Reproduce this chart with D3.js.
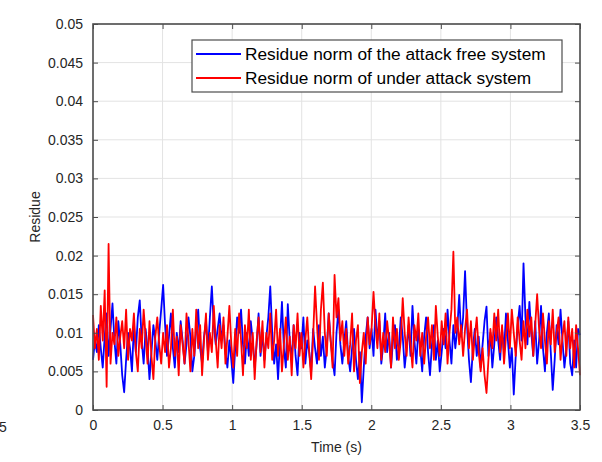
<!DOCTYPE html>
<html><head><meta charset="utf-8">
<script src="https://cdn.jsdelivr.net/npm/d3@7"></script>
<style>html,body{margin:0;padding:0;background:#fff;}svg{display:block;font-family:"Liberation Sans",Arial,sans-serif;}</style>
</head><body>
<svg id="chart" width="602" height="462"></svg>
<script>
const sampleStep = 0.014;
const xTicks = [0, 0.5, 1, 1.5, 2, 2.5, 3, 3.5];
const xTickLabels = ["0", "0.5", "1", "1.5", "2", "2.5", "3", "3.5"];
const yTicks = [0, 0.005, 0.01, 0.015, 0.02, 0.025, 0.03, 0.035, 0.04, 0.045, 0.05];
const yTickLabels = ["0", "0.005", "0.01", "0.015", "0.02", "0.025", "0.03", "0.035", "0.04", "0.045", "0.05"];
const seriesNames = ["Residue norm of the attack free system", "Residue norm of under attack system"];
const attackFree = [
0.0065,0.009,0.0075,0.011,0.008,0.0055,0.0095,0.0125,0.007,0.0105,
0.0138,0.009,0.006,0.0115,0.0085,0.0045,0.0023,0.0065,0.01,0.008,
0.005,0.011,0.0075,0.012,0.0142,0.009,0.006,0.0105,0.008,0.004,
0.0075,0.011,0.009,0.0065,0.01,0.013,0.0162,0.011,0.007,0.0095,
0.0125,0.008,0.0055,0.01,0.0075,0.0115,0.009,0.006,0.0085,0.012,
0.0095,0.005,0.007,0.0105,0.013,0.008,0.006,0.0095,0.0115,0.0075,
0.012,0.016,0.011,0.0085,0.0105,0.0125,0.009,0.011,0.0075,0.0055,
0.009,0.0065,0.0035,0.008,0.012,0.01,0.013,0.0085,0.006,0.01,
0.007,0.0115,0.009,0.0055,0.0085,0.0125,0.007,0.01,0.0065,0.0095,
0.012,0.016,0.01,0.006,0.0085,0.004,0.009,0.014,0.008,0.0055,
0.0137,0.009,0.0065,0.011,0.007,0.0045,0.01,0.008,0.012,0.006,
0.009,0.0075,0.005,0.0105,0.008,0.006,0.011,0.007,0.0095,0.0055,
0.008,0.0125,0.009,0.0065,0.0045,0.01,0.013,0.0085,0.006,0.009,
0.0115,0.007,0.005,0.008,0.0105,0.0065,0.004,0.0075,0.001,0.0055,
0.0095,0.012,0.008,0.0105,0.007,0.013,0.009,0.0115,0.006,0.0085,
0.0125,0.0075,0.01,0.0055,0.009,0.011,0.0065,0.008,0.012,0.0095,
0.0055,0.008,0.011,0.007,0.0135,0.009,0.006,0.0105,0.008,0.005,
0.0095,0.012,0.0075,0.0045,0.0085,0.011,0.0065,0.009,0.005,0.0075,
0.0105,0.008,0.013,0.009,0.006,0.011,0.008,0.0105,0.0149,0.0095,
0.012,0.018,0.011,0.0065,0.0036,0.008,0.0105,0.007,0.0095,0.0055,
0.0085,0.0115,0.0134,0.007,0.01,0.0055,0.0085,0.012,0.009,0.0065,
0.0105,0.0075,0.0125,0.009,0.0055,0.008,0.002,0.007,0.011,0.0135,
0.009,0.019,0.012,0.0085,0.014,0.01,0.007,0.0115,0.006,0.009,
0.0135,0.008,0.005,0.01,0.0125,0.0075,0.0026,0.0065,0.011,0.0085,
0.013,0.009,0.0055,0.008,0.0115,0.006,0.0045,0.009,0.0055,0.0105,
0.0097];
const underAttack = [
0.0123,0.008,0.0105,0.0065,0.0135,0.009,0.0155,0.003,0.0215,0.006,
0.01,0.0085,0.012,0.007,0.0095,0.0115,0.008,0.013,0.0065,0.0105,
0.009,0.0125,0.0075,0.005,0.0105,0.008,0.013,0.0095,0.006,0.0115,
0.007,0.004,0.0095,0.012,0.0085,0.006,0.01,0.0075,0.011,0.0055,
0.008,0.013,0.007,0.0095,0.0045,0.011,0.0085,0.006,0.0125,0.009,
0.005,0.0105,0.007,0.013,0.008,0.011,0.0045,0.009,0.0125,0.0065,
0.01,0.0075,0.0135,0.009,0.0055,0.011,0.008,0.012,0.006,0.0095,
0.0135,0.0085,0.0055,0.0105,0.007,0.0125,0.009,0.0045,0.011,0.008,
0.013,0.0065,0.01,0.004,0.009,0.012,0.0075,0.0115,0.0055,0.01,
0.008,0.0125,0.0065,0.009,0.013,0.007,0.0105,0.005,0.0085,0.012,
0.0065,0.0095,0.0045,0.011,0.008,0.0125,0.007,0.01,0.0055,0.009,
0.012,0.0075,0.004,0.0095,0.016,0.011,0.0065,0.013,0.0165,0.01,
0.007,0.0125,0.009,0.0055,0.0175,0.012,0.0145,0.009,0.0115,0.007,
0.0105,0.006,0.0085,0.0125,0.005,0.009,0.011,0.0035,0.0075,0.01,
0.006,0.012,0.0085,0.0105,0.0153,0.011,0.008,0.0125,0.0065,0.01,
0.0075,0.0115,0.009,0.0055,0.012,0.008,0.0105,0.0065,0.009,0.0145,
0.01,0.007,0.012,0.0085,0.0055,0.011,0.009,0.0125,0.007,0.01,
0.006,0.0095,0.012,0.008,0.011,0.0065,0.0135,0.0095,0.007,0.0115,
0.0085,0.0125,0.006,0.01,0.013,0.0205,0.01,0.012,0.0085,0.011,
0.007,0.0105,0.013,0.008,0.0115,0.0065,0.0095,0.012,0.0075,0.005,
0.008,0.0045,0.0022,0.0065,0.0105,0.008,0.0125,0.009,0.013,0.0075,
0.011,0.006,0.0095,0.0125,0.008,0.013,0.01,0.007,0.012,0.009,
0.0065,0.0115,0.008,0.013,0.0095,0.012,0.007,0.011,0.015,0.0105,
0.008,0.0125,0.009,0.006,0.0115,0.0085,0.013,0.0075,0.01,0.012,
0.0065,0.0095,0.0115,0.007,0.012,0.008,0.0105,0.0055,0.011,0.008,
0.0045];

const svg = d3.select("#chart");
const L = 93, R = 580, T = 24, B = 410;
const x = d3.scaleLinear().domain([0, 3.5]).range([L, R]);
const y = d3.scaleLinear().domain([0, 0.05]).range([B, T]);
const txt = "#262626", axisCol = "#4d4d4d", gridCol = "#e3e3e3";

// grid
const grid = svg.append("g");
grid.selectAll(".gx").data(xTicks).join("line")
  .attr("x1", d => x(d)).attr("x2", d => x(d)).attr("y1", T).attr("y2", B)
  .attr("stroke", gridCol).attr("stroke-width", 1);
grid.selectAll(".gy").data(yTicks).join("line")
  .attr("x1", L).attr("x2", R).attr("y1", d => y(d)).attr("y2", d => y(d))
  .attr("stroke", gridCol).attr("stroke-width", 1);

// lines
const line = d3.line().x((d, i) => x(i * sampleStep)).y(d => y(d));
svg.append("path").datum(attackFree).attr("d", line)
  .attr("fill", "none").attr("stroke", "#0000ff").attr("stroke-width", 1.8).attr("stroke-linejoin", "round");
svg.append("path").datum(underAttack).attr("d", line)
  .attr("fill", "none").attr("stroke", "#ff0000").attr("stroke-width", 1.8).attr("stroke-linejoin", "round");

// axes (inward ticks, box)
function styleAxis(g) {
  g.select(".domain").remove();
  g.selectAll(".tick line").attr("stroke", axisCol).attr("stroke-width", 1);
  g.selectAll(".tick text").attr("fill", txt).style("font-size", "14px").style("font-family", '"Liberation Sans", Arial, sans-serif');
}
svg.append("g").attr("transform", `translate(0,${B})`)
  .call(d3.axisBottom(x).tickValues(xTicks).tickFormat((d, i) => xTickLabels[i]).tickSizeInner(-5).tickSizeOuter(0).tickPadding(10))
  .call(styleAxis);
svg.append("g").attr("transform", `translate(0,${T})`)
  .call(d3.axisTop(x).tickValues(xTicks).tickFormat("").tickSizeInner(-5).tickSizeOuter(0))
  .call(styleAxis);
svg.append("g").attr("transform", `translate(${L},0)`)
  .call(d3.axisLeft(y).tickValues(yTicks).tickFormat((d, i) => yTickLabels[i]).tickSizeInner(-5).tickSizeOuter(0).tickPadding(10))
  .call(styleAxis);
svg.append("g").attr("transform", `translate(${R},0)`)
  .call(d3.axisRight(y).tickValues(yTicks).tickFormat("").tickSizeInner(-5).tickSizeOuter(0))
  .call(styleAxis);
svg.append("rect").attr("x", L).attr("y", T).attr("width", R - L).attr("height", B - T)
  .attr("fill", "none").attr("stroke", axisCol).attr("stroke-width", 1.6);

// labels
svg.append("text").attr("x", (L + R) / 2).attr("y", 452).attr("text-anchor", "middle")
  .attr("fill", txt).style("font-size", "14px").text("Time (s)");
svg.append("text").attr("transform", `translate(40,${(T + B) / 2}) rotate(-90)`).attr("text-anchor", "middle")
  .attr("fill", txt).style("font-size", "14px").text("Residue");
svg.append("text").attr("x", -1).attr("y", 432).attr("fill", txt).style("font-size", "14px").text("5");

// legend
const lg = svg.append("g");
lg.append("rect").attr("x", 192).attr("y", 40).attr("width", 370).attr("height", 52)
  .attr("fill", "#fff").attr("stroke", "#4d4d4d").attr("stroke-width", 1.2);
const legendColors = ["#0000ff", "#ff0000"];
seriesNames.forEach((name, i) => {
  const cy = 54 + i * 24;
  lg.append("line").attr("x1", 196).attr("x2", 241).attr("y1", cy).attr("y2", cy)
    .attr("stroke", legendColors[i]).attr("stroke-width", 1.8);
  lg.append("text").attr("x", 245).attr("y", cy + 6).attr("fill", "#000")
    .style("font-size", "17.3px").text(name);
});
</script>
</body></html>
